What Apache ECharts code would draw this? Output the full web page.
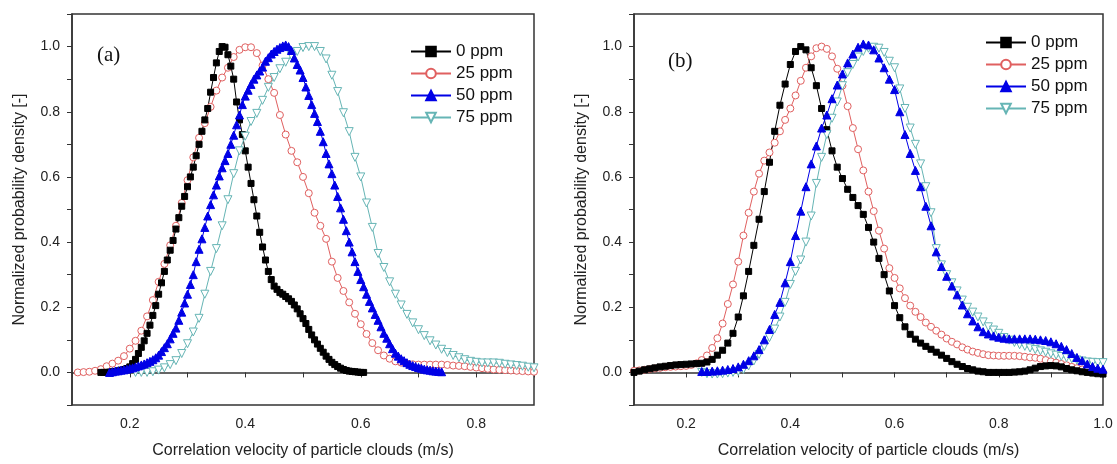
<!DOCTYPE html>
<html>
<head>
<meta charset="utf-8">
<script src="https://cdn.jsdelivr.net/npm/echarts@6/dist/echarts.min.js"></script>
<style>html,body{margin:0;background:#fff}#chart{width:1117px;height:464px}</style>
</head>
<body>
<div id="chart"></div>
<script>
// series names (legend)
var names = ['0 ppm', '25 ppm', '50 ppm', '75 ppm'];

// panel (a): y values, sampled from start with fixed step (m/s)
var a0Start = 0.15, a0Step = 0.005;
var a0 = [0.000,0.000,0.000,0.001,0.002,0.003,0.005,0.007,0.009,0.012,
  0.017,0.027,0.040,0.058,0.077,0.097,0.120,0.145,0.175,0.205,
  0.240,0.275,0.310,0.345,0.375,0.405,0.440,0.475,0.510,0.540,
  0.570,0.600,0.630,0.665,0.700,0.740,0.775,0.810,0.860,0.905,
  0.950,0.985,1.000,0.998,0.975,0.940,0.900,0.830,0.775,0.730,
  0.680,0.630,0.580,0.530,0.480,0.430,0.385,0.345,0.310,0.285,
  0.265,0.255,0.245,0.240,0.233,0.226,0.218,0.207,0.195,0.180,
  0.165,0.150,0.132,0.115,0.100,0.087,0.074,0.062,0.050,0.040,
  0.031,0.024,0.018,0.013,0.009,0.006,0.004,0.003,0.002,0.001,
  0.000,0.000];

var a25Start = 0.11, a25Step = 0.01;
var a25 = [0.000,0.001,0.002,0.005,0.010,0.019,0.027,0.036,0.050,0.073,
  0.097,0.128,0.172,0.222,0.278,0.333,0.390,0.450,0.520,0.590,
  0.660,0.720,0.765,0.815,0.865,0.905,0.935,0.968,0.990,0.998,
  0.998,0.980,0.942,0.900,0.858,0.790,0.730,0.680,0.645,0.600,
  0.550,0.490,0.450,0.410,0.340,0.290,0.250,0.215,0.180,0.148,
  0.118,0.090,0.068,0.052,0.042,0.034,0.030,0.027,0.025,0.024,
  0.024,0.024,0.024,0.024,0.023,0.021,0.020,0.019,0.017,0.015,
  0.013,0.011,0.009,0.008,0.007,0.006,0.005,0.004,0.003,0.002];

var a50Start = 0.165, a50Step = 0.005;
var a50 = [0.000,0.002,0.004,0.005,0.007,0.008,0.010,0.012,0.014,0.017,
  0.020,0.023,0.026,0.030,0.034,0.039,0.045,0.053,0.064,0.076,
  0.088,0.103,0.120,0.136,0.160,0.185,0.213,0.240,0.270,0.300,
  0.340,0.378,0.410,0.445,0.480,0.515,0.545,0.575,0.603,0.628,
  0.650,0.672,0.700,0.728,0.760,0.790,0.822,0.848,0.866,0.884,
  0.900,0.913,0.925,0.937,0.955,0.966,0.977,0.985,0.992,0.997,
  1.002,1.005,1.000,0.988,0.965,0.945,0.928,0.905,0.876,0.850,
  0.822,0.795,0.770,0.740,0.708,0.672,0.640,0.610,0.575,0.540,
  0.505,0.470,0.435,0.400,0.370,0.340,0.310,0.285,0.263,0.240,
  0.218,0.198,0.178,0.160,0.140,0.120,0.105,0.088,0.073,0.059,
  0.050,0.042,0.036,0.030,0.025,0.021,0.018,0.015,0.013,0.010,
  0.008,0.007,0.005,0.004,0.003,0.002];

var a75Start = 0.21, a75Step = 0.01;
var a75 = [0.000,0.000,0.000,0.002,0.007,0.014,0.024,0.036,0.058,0.088,
  0.124,0.166,0.240,0.310,0.380,0.450,0.530,0.610,0.680,0.725,
  0.770,0.795,0.835,0.875,0.905,0.932,0.952,0.972,0.985,0.997,
  1.000,1.000,0.985,0.962,0.912,0.862,0.797,0.739,0.660,0.600,
  0.520,0.445,0.365,0.322,0.278,0.240,0.207,0.178,0.152,0.131,
  0.113,0.097,0.084,0.071,0.061,0.052,0.045,0.039,0.034,0.031,
  0.029,0.029,0.029,0.028,0.025,0.023,0.021,0.019,0.016,0.014];

// panel (b)
var b0Start = 0.10, b0Step = 0.01;
var b0 = [0.000,0.004,0.008,0.011,0.014,0.017,0.019,0.021,0.023,0.024,
  0.025,0.026,0.027,0.028,0.032,0.040,0.053,0.068,0.090,0.120,
  0.170,0.235,0.310,0.390,0.470,0.555,0.645,0.740,0.820,0.885,
  0.945,0.985,1.000,0.990,0.935,0.880,0.810,0.745,0.680,0.630,
  0.595,0.562,0.537,0.512,0.485,0.445,0.400,0.350,0.300,0.250,
  0.205,0.168,0.140,0.117,0.102,0.090,0.080,0.071,0.062,0.053,
  0.043,0.033,0.025,0.018,0.012,0.008,0.004,0.002,0.000,0.000,
  0.000,0.000,0.000,0.001,0.002,0.004,0.008,0.013,0.018,0.020,
  0.021,0.020,0.017,0.012,0.008,0.005,0.002,0.000,-0.002,-0.004,-0.005];

var b25Start = 0.10, b25Step = 0.01;
var b25 = [0.005,0.006,0.008,0.010,0.012,0.014,0.016,0.017,0.018,0.019,
  0.020,0.023,0.028,0.038,0.052,0.075,0.105,0.150,0.210,0.270,
  0.340,0.420,0.490,0.555,0.610,0.650,0.675,0.705,0.740,0.775,
  0.810,0.850,0.895,0.935,0.970,0.995,1.000,0.993,0.970,0.932,
  0.880,0.817,0.750,0.685,0.620,0.555,0.495,0.435,0.380,0.320,
  0.290,0.258,0.228,0.205,0.186,0.170,0.153,0.140,0.128,0.116,
  0.104,0.094,0.086,0.077,0.070,0.064,0.060,0.056,0.053,0.052,
  0.051,0.051,0.051,0.051,0.050,0.048,0.046,0.045,0.042,0.038,
  0.034,0.030,0.026,0.022,0.017,0.013,0.009,0.005,0.003,0.001,0.000];

var b50Start = 0.23, b50Step = 0.01;
var b50 = [0.003,0.003,0.004,0.005,0.007,0.009,0.012,0.017,0.025,0.036,
  0.051,0.070,0.100,0.132,0.178,0.215,0.275,0.340,0.420,0.495,
  0.570,0.640,0.695,0.750,0.790,0.840,0.882,0.916,0.950,0.977,
  0.998,1.008,1.005,0.990,0.965,0.935,0.900,0.868,0.800,0.730,
  0.672,0.620,0.570,0.510,0.450,0.370,0.325,0.295,0.265,0.238,
  0.207,0.180,0.158,0.140,0.125,0.118,0.112,0.108,0.105,0.103,
  0.103,0.103,0.103,0.103,0.102,0.100,0.098,0.094,0.088,0.080,
  0.070,0.058,0.046,0.036,0.026,0.018,0.013,0.010];

var b75Start = 0.23, b75Step = 0.01;
var b75 = [0.000,-0.004,-0.005,-0.005,-0.004,-0.002,0.000,0.003,0.009,0.020,
  0.035,0.055,0.080,0.107,0.133,0.170,0.215,0.270,0.310,0.345,
  0.400,0.480,0.580,0.660,0.730,0.780,0.830,0.880,0.920,0.945,
  0.968,0.985,0.995,0.998,0.995,0.982,0.955,0.935,0.870,0.810,
  0.750,0.700,0.640,0.570,0.490,0.380,0.330,0.300,0.275,0.250,
  0.222,0.200,0.185,0.170,0.155,0.140,0.130,0.120,0.107,0.099,
  0.092,0.085,0.080,0.075,0.070,0.066,0.062,0.057,0.053,0.049,
  0.045,0.042,0.038,0.035,0.032,0.031,0.030,0.030];

var font = '"Liberation Sans", Arial, sans-serif';

var looks = {
  '0 ppm':  { symbol: 'rect', size: 6, rotate: 0, line: '#000000', fill: '#000000' },
  '25 ppm': { symbol: 'circle', size: 7, rotate: 0, line: '#e06060', fill: '#ffffff' },
  '50 ppm': { symbol: 'triangle', size: 8, rotate: 0, line: '#0000e6', fill: '#0000e6' },
  '75 ppm': { symbol: 'triangle', size: 8, rotate: 180, line: '#66b5b5', fill: '#ffffff' }
};

function pts(start, step, ys) {
  return ys.map(function (y, i) { return [+(start + i * step).toFixed(4), y]; });
}

function mkSeries(name, panel, start, step, ys) {
  var s = looks[name];
  return {
    type: 'line', name: name, xAxisIndex: panel, yAxisIndex: panel,
    data: pts(start, step, ys),
    symbol: s.symbol, symbolSize: s.size, symbolRotate: s.rotate, showAllSymbol: true,
    lineStyle: { color: s.line, width: 1 },
    itemStyle: { color: s.fill, borderColor: s.line, borderWidth: 1 },
    emphasis: { disabled: true }
  };
}

function evenTenth(v) {
  var k = Math.round(v * 10);
  return (k % 2 === 0 && k >= 0 && k <= 10) ? (k / 10).toFixed(1) : '';
}

function xAx(gi, max) {
  return {
    type: 'value', gridIndex: gi, min: 0.1, max: max, interval: 0.1,
    name: 'Correlation velocity of particle clouds (m/s)', nameLocation: 'middle', nameGap: 38,
    nameTextStyle: { fontSize: 16, color: '#222', fontFamily: font },
    axisLine: { lineStyle: { color: '#333', width: 1.5 } },
    axisTick: { length: 5, lineStyle: { color: '#333' } },
    axisLabel: { fontSize: 14, color: '#222', margin: 12, fontFamily: font, formatter: evenTenth },
    splitLine: { show: false }
  };
}

function yAx(gi) {
  return {
    type: 'value', gridIndex: gi, min: -0.1, max: 1.1, interval: 0.1,
    name: 'Normalized probability density [-]', nameLocation: 'middle', nameGap: 44,
    nameTextStyle: { fontSize: 16, color: '#222', fontFamily: font },
    axisLine: { lineStyle: { color: '#333', width: 1.5 } },
    axisTick: { length: 5, lineStyle: { color: '#333' } },
    axisLabel: { fontSize: 14, color: '#222', margin: 12, fontFamily: font, formatter: evenTenth },
    splitLine: { show: false }
  };
}

function legendAt(left, top) {
  return {
    data: names, orient: 'vertical', left: left, top: top, padding: 0,
    itemWidth: 40, itemHeight: 12, itemGap: 5,
    textStyle: { fontSize: 17, color: '#111', fontFamily: font }
  };
}

var chart = echarts.init(document.getElementById('chart'));
chart.setOption({
  animation: false,
  backgroundColor: '#fff',
  textStyle: { fontFamily: font },
  grid: [
    { left: 72, top: 14, width: 462, height: 391, show: true, borderColor: '#333', borderWidth: 1.5 },
    { left: 634, top: 14, width: 469, height: 391, show: true, borderColor: '#333', borderWidth: 1.5 }
  ],
  xAxis: [xAx(0, 0.9), xAx(1, 1.0)],
  yAxis: [yAx(0), yAx(1)],
  legend: [legendAt(410, 43), legendAt(985, 34)],
  graphic: [
    { type: 'text', left: 97, top: 45, style: { text: '(a)', font: '21px "Liberation Serif", serif', fill: '#111' } },
    { type: 'text', left: 668, top: 51, style: { text: '(b)', font: '21px "Liberation Serif", serif', fill: '#111' } }
  ],
  series: [
    mkSeries('25 ppm', 0, a25Start, a25Step, a25),
    mkSeries('0 ppm', 0, a0Start, a0Step, a0),
    mkSeries('75 ppm', 0, a75Start, a75Step, a75),
    mkSeries('50 ppm', 0, a50Start, a50Step, a50),
    mkSeries('25 ppm', 1, b25Start, b25Step, b25),
    mkSeries('0 ppm', 1, b0Start, b0Step, b0),
    mkSeries('75 ppm', 1, b75Start, b75Step, b75),
    mkSeries('50 ppm', 1, b50Start, b50Step, b50)
  ]
});
</script>
</body>
</html>
